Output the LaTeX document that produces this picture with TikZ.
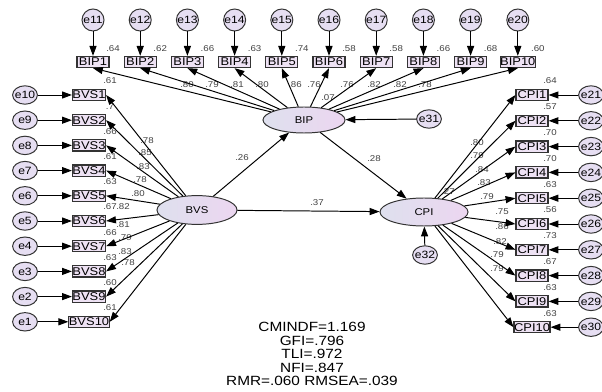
\documentclass[tikz,border=0pt]{standalone}
\usepackage{fontspec}
\setmainfont{Liberation Sans}[FakeStretch=1.15]
\usetikzlibrary{shapes.geometric, arrows.meta}

\definecolor{obsFill}{RGB}{238,226,244}
\definecolor{errFill}{RGB}{230,222,242}
\definecolor{latLeft}{RGB}{222,224,238}
\definecolor{latRight}{RGB}{236,214,240}

\begin{document}
\begin{tikzpicture}[
        x=0.025cm, y=-0.025cm,
        obsBox/.style={
            rectangle, draw=black!80, line width=0.8pt, fill=obsFill,
            minimum width=0.8cm, minimum height=0.28cm, inner sep=0pt,
            font=\fontsize{8}{8}\selectfont
        },
        errTop/.style={
            circle, draw=black!80, line width=0.7pt, fill=errFill,
            minimum size=0.55cm, inner sep=0pt, inner xsep=-1pt,
            font=\fontsize{7.5}{7.5}\selectfont
        },
        errSide/.style={
            ellipse, draw=black!80, line width=0.7pt, fill=errFill,
            minimum width=0.62cm, minimum height=0.46cm, inner sep=0pt, inner xsep=-3pt,
            font=\fontsize{7.5}{7.5}\selectfont
        },
        latent/.style={
            ellipse, draw=black!80, line width=0.7pt,
            left color=latLeft, right color=latRight, inner sep=0pt,
            font=\fontsize{7}{7}\selectfont
        },
        coef/.style={
            inner sep=0pt, text=black!75, font=\fontsize{6}{6}\selectfont
        },
        arrow/.style={
            line width=0.7pt, -{Triangle[length=7pt,width=5pt]}
        }
    ]
        \useasboundingbox (0,0) rectangle (602,392);
        \clip (0,0) rectangle (602,392);

        % Latent variables
        \node (bip) [latent, minimum width=2.05cm, minimum height=0.65cm] at (304,120) {BIP};
        \node (bvs) [latent, minimum width=2cm, minimum height=0.72cm] at (197,210) {BVS};
        \node (cpi) [latent, minimum width=2.2cm, minimum height=0.7cm] at (424,212) {CPI};
        \node (e31) [errSide] at (429,119) {e31};
        \node (e32) [errSide] at (425,255) {e32};

        % BIP items
        \foreach \i/\rr in {1/.64, 2/.62, 3/.66, 4/.63, 5/.74, 6/.58, 7/.58, 8/.66, 9/.68, 10/.60} {
            \pgfmathsetmacro\xx{93+47.2*(\i-1)}
            \pgfmathtruncatemacro\ee{10+\i}
            \node (e\ee) [errTop] at (\xx,20) {e\ee};
            \node (bip\i) [obsBox] at (\xx,62) {BIP\i};
            \node [coef] at (\xx+20,49) {\rr};
        }

        % BVS items
        \foreach \k/\rr in {1/.61, 2/.7, 3/.66, 4/.61, 5/.63, 6/.67, 7/.66, 8/.63, 9/.60, 10/.61} {
            \pgfmathsetmacro\yy{95+25.2*(\k-1)}
            \pgfmathtruncatemacro\ee{11-\k}
            \node (e\ee) [errSide] at (25,\yy) {e\ee};
            \node (bvs\k) [obsBox] at (89,\yy) {BVS\k};
            \node [coef] at (110,\yy-14) {\rr};
        }

        % CPI items
        \foreach \k/\rr in {1/.64, 2/.57, 3/.70, 4/.70, 5/.63, 6/.56, 7/.73, 8/.67, 9/.63, 10/.63} {
            \pgfmathsetmacro\yy{95+25.8*(\k-1)}
            \pgfmathtruncatemacro\ee{20+\k}
            \node (e\ee) [errSide, inner xsep=-2pt] at (591,\yy) {e\ee};
            \node (cpi\k) [obsBox] at (532,\yy) {CPI\k};
            \node [coef] at (550,\yy-14) {\rr};
        }

        % Loadings
        \foreach \x/\v in {187/.80, 212/.79, 237/.81, 262/.80, 295/.86, 314/.76, 347/.76, 374/.82, 400/.82, 425/.78}
            \node [coef] at (\x,85) {\v};
        \foreach \x/\y/\v in {147/141/.78, 145/153/.85, 143/167/.83, 140/180/.78, 138/194/.80,
                              123/207/.82, 123/225/.81, 125/238/.79, 125/252/.83, 128/263/.78}
            \node [coef] at (\x,\y) {\v};
        \foreach \x/\y/\v in {477/143/.80, 477/156/.79, 482/170/.84, 484/183/.83, 487/197/.79,
                              502/212/.75, 502/227/.86, 500/242/.82, 497/255/.79, 497/269/.79}
            \node [coef] at (\x,\y) {\v};
        \node [coef] at (328,98) {.07};
        \node [coef] at (448,192) {.27};
        \node [coef] at (242,158) {.26};
        \node [coef] at (374,159) {.28};
        \node [coef] at (317,203) {.37};

        % Fit indices
        \node (fit) [align=center, inner sep=0pt, font=\fontsize{9.5}{9.6}\selectfont] at (312,354)
            {CMINDF=1.169\\GFI=.796\\TLI=.972\\NFI=.847\\RMR=.060 RMSEA=.039};

        % Arrows
        \foreach \i in {1,...,10} {
            \pgfmathtruncatemacro\ee{10+\i}
            \draw [arrow] (e\ee) -- (bip\i);
            \draw [arrow] (bip) -- (bip\i.south);
        }
        \foreach \k in {1,...,10} {
            \pgfmathtruncatemacro\ee{11-\k}
            \draw [arrow] (e\ee) -- (bvs\k);
            \draw [arrow] (bvs) -- (bvs\k.east);
        }
        \foreach \k in {1,...,10} {
            \pgfmathtruncatemacro\ee{20+\k}
            \draw [arrow] (e\ee) -- (cpi\k);
            \draw [arrow] (cpi) -- (cpi\k.west);
        }
        \draw [arrow] (bvs) -- (bip);
        \draw [arrow] (bvs) -- (cpi);
        \draw [arrow] (bip) -- (cpi);
        \draw [arrow] (e31) -- (bip);
        \draw [arrow] (e32) -- (cpi);
    \end{tikzpicture}
\end{document}
